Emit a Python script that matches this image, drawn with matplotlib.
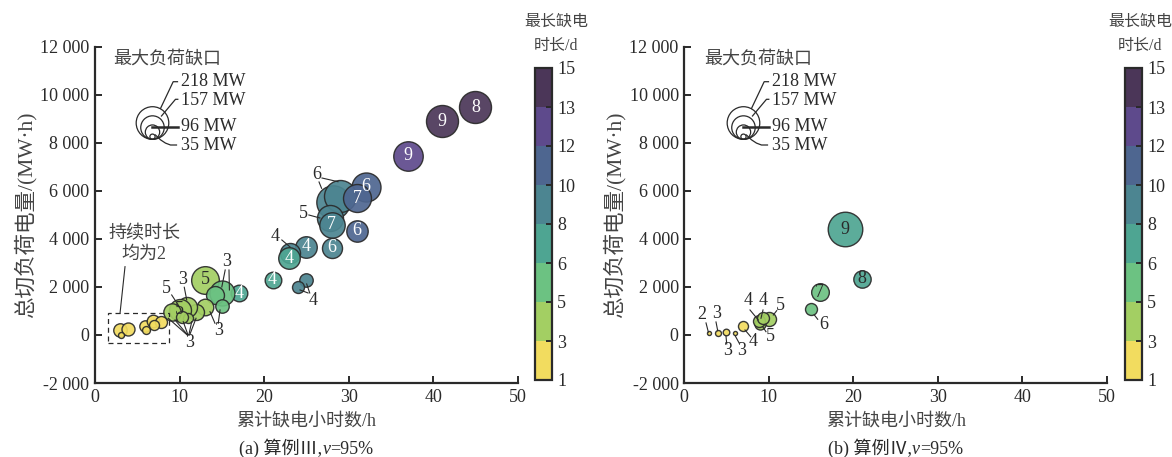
import matplotlib
matplotlib.use('Agg')
import matplotlib.pyplot as plt
from matplotlib.colors import ListedColormap, BoundaryNorm
from matplotlib.patches import Rectangle
from matplotlib.transforms import Affine2D
from matplotlib.offsetbox import TextArea, HPacker, AnchoredOffsetbox
import matplotlib.ticker as mticker
import matplotlib as mpl

plt.rcParams['font.family'] = ['Liberation Serif', 'Noto Sans CJK SC']
plt.rcParams['axes.unicode_minus'] = False

DPI = 100
W, H = 1172, 457

# ---------------- colour scale (longest outage duration, d) ----------------
dur_bounds = [1, 3, 5, 6, 8, 10, 12, 13, 15]
dur_colors = ['#f2dc5f', '#a3cf63', '#6cc282', '#4ea592',
              '#4c8591', '#4e6690', '#5e4a8c', '#4b3658']

# ---------------- Case III ----------------
a_hours  = [45.0, 41.0, 37.0, 32.0, 28.2, 29.0, 31.0, 27.8, 28.0, 31.0, 28.0, 25.0, 23.1, 23.0,
            21.0, 25.0, 24.0, 17.0, 13.0, 15.0, 14.2, 15.0, 13.0, 12.0, 10.85, 10.0, 9.07, 11.0, 10.3,
            2.96, 3.94, 3.04, 5.91, 6.03, 6.9, 7.77, 6.95]
a_energy = [9480, 8900, 7450, 6170, 5550, 5800, 5690, 4870, 4580, 4330, 3630, 3680, 3400, 3200,
            2300, 2290, 2000, 1740, 2290, 1740, 1660, 1207, 1179, 970, 1179, 1040, 970, 695, 760,
            208, 237, 0, 375, 208, 595, 554, 400]
a_gap    = [214, 214, 197, 194, 223, 214, 187, 174, 170, 143, 134, 144, 134, 144,
            111, 90, 80, 111, 185, 167, 120, 90, 111, 107, 134, 147, 116, 67, 80,
            90, 87, 40, 76, 53, 84, 80, 67]
a_dur    = [14, 14, 12.5, 11, 9, 9, 11, 9, 9, 11, 9, 9, 9, 7,
            7, 9, 9, 7, 4, 5.5, 5.5, 5.5, 4, 4, 4, 4, 4, 4, 4,
            2, 2, 2, 2, 2, 2, 2, 2]
a_count  = ['8', '9', '9', '6', '', '', '7', '', '7', '6', '6', '4', '', '4',
            '4', '', '', '4', '5', '', '', '', '', '', '', '5', '', '', '',
            '', '', '', '', '', '', '', '']

# ---------------- Case IV ----------------
b_hours  = [19.0, 21.0, 16.0, 15.0, 10.0, 9.0, 8.8, 9.3, 7.0, 6.0, 4.93, 3.95, 2.96]
b_energy = [4400, 2330, 1780, 1070, 650, 450, 600, 700, 375, 70, 112, 70, 70]
b_gap    = [231, 116, 118, 80, 94, 74, 80, 80, 67, 27, 44, 40, 27]
b_dur    = [7, 7, 5.5, 5.5, 4, 4, 4, 4, 2, 2, 2, 2, 2]
b_count  = ['9', '8', '7', '', '', '', '', '', '', '', '', '', '']

# legend gaps (MW)
legend_gaps = [218, 157, 96, 35]

# outside labels: text, (tx, ty), leader segments [(x0,y0,x1,y1), ...]
a_callouts = [
    ('3', (15.6, 3040), [(15.4, 2705, 15.0, 2000), (15.85, 2705, 15.9, 1873)]),
    ('5', (8.45, 1950), [(9.07, 1665, 9.97, 1178)]),
    ('3', (10.37, 2300), [(10.56, 1985, 10.85, 1457)]),
    ('3', (11.24, -300), [(10.9, 0, 8.67, 695), (10.95, 0, 9.46, 624), (11.0, 0, 10.44, 553),
                          (11.1, 0, 11.44, 553), (11.2, 0, 11.95, 695)]),
    ('3', (14.58, 190), [(14.19, 487, 13.6, 970), (14.58, 487, 14.79, 1040)]),
    ('4', (25.8, 1430), [(25.4, 1748, 25.04, 2123), (25.2, 1748, 24.25, 1873)]),
    ('4', (21.3, 4079), [(22.1, 3954, 23.07, 3662)]),
    ('5', (24.64, 5065), [(25.3, 4994, 26.6, 4870)]),
    ('6', (26.2, 6659), [(26.85, 6534, 28.74, 6380), (26.5, 6368, 26.8, 6106)]),
]
b_callouts = [
    ('6', (16.44, 416), [(15.38, 832, 15.78, 653)]),
    ('5', (11.32, 1207), [(10.53, 832, 10.93, 1011)]),
    ('5', (10.14, -71), [(9.27, 345, 9.66, 137)]),
    ('4', (7.57, 1415), [(8.75, 624, 7.77, 1040)]),
    ('4', (9.34, 1415), [(9.07, 695, 9.31, 1040)]),
    ('4', (8.16, -279), [(7.18, 208, 7.85, -71)]),
    ('3', (6.79, -640), [(6.03, -42, 6.5, -345)]),
    ('3', (5.13, -660), [(4.93, -42, 5.02, -375)]),
    ('3', (3.83, 874), [(3.95, 180, 3.75, 541)]),
    ('2', (2.06, 832), [(2.84, 125, 2.57, 500)]),
]

cmap = ListedColormap(dur_colors)
norm = BoundaryNorm(dur_bounds, cmap.N)

FS = 13
DARK = '#2a2a2a'
GREY = '#444444'


def radius_px(gap):
    return gap * 16.3 / 218.0


def marker_s(gap):
    d_pt = 2 * radius_px(gap) * 72.0 / DPI
    return d_pt ** 2


fig = plt.figure(figsize=(W / DPI, H / DPI), dpi=DPI)


def fmt(v, pos):
    v = int(round(v))
    s = f"{abs(v):,}".replace(',', ' ')
    return ('-' if v < 0 else '') + s


def setup_axes(ax):
    ax.set_xlim(0, 50)
    ax.set_ylim(-2000, 12000)
    ax.set_xticks(range(0, 51, 10))
    ax.set_yticks(range(-2000, 12001, 2000))
    ax.yaxis.set_major_formatter(mticker.FuncFormatter(fmt))
    for sp in ['top', 'right']:
        ax.spines[sp].set_visible(False)
    for sp in ['left', 'bottom']:
        ax.spines[sp].set_linewidth(1.6)
        ax.spines[sp].set_color(DARK)
    ax.tick_params(direction='in', length=5, width=1.4, labelsize=FS, colors=DARK, pad=4)
    ax.autoscale(False)


def draw_bubbles(ax, xs, ys, gaps, durs, counts, light_text):
    for x, y, g, d, c in zip(xs, ys, gaps, durs, counts):
        col = cmap(norm(d))
        ax.scatter([x], [y], s=marker_s(g), color=col, alpha=0.92,
                   edgecolors=DARK, linewidths=1.0, zorder=3)
        if c:
            tc = 'white' if (light_text and d >= 6) else DARK
            ax.text(x, y, c, ha='center', va='center', fontsize=FS, color=tc, zorder=4)


def draw_callouts(ax, callouts):
    for t, (tx, ty), segs in callouts:
        ax.text(tx, ty, t, ha='center', va='center', fontsize=FS, color=DARK, zorder=5)
        for x0, y0, x1, y1 in segs:
            ax.plot([x0, x1], [y0, y1], color=DARK, lw=0.8, zorder=5)


def draw_size_legend(ax, anchor):
    ax0 = ax.transData.transform(anchor)
    T = Affine2D().scale(1, -1).translate(ax0[0], ax0[1])
    for g in legend_gaps:
        r = radius_px(g)
        ax.scatter([0], [-r], s=marker_s(g), transform=T, facecolors='none',
                   edgecolors=DARK, linewidths=0.9, zorder=3)
    ax.text(14.7, -80.3, '最大负荷缺口', transform=T, ha='center', va='center',
            fontsize=FS, color=GREY)
    leaders = [
        ([8, 20.7, 25], [-30.8, -57.6, -57.6], 0.9),
        ([9, 23, 25.3], [-23.3, -40, -40], 0.9),
        ([-0.3, 25.3], [-12.6, -12.6], 1.8),
        ([3, 8, 13, 18, 24], [-4.3, 0.5, 3.8, 5.7, 5.7], 0.9),
    ]
    label_y = [-57.6, -38.6, -12.6, 5.7]
    for g, (lx, ly, lw), yy in zip(legend_gaps, leaders, label_y):
        ax.plot(lx, ly, transform=T, color=DARK, lw=lw, zorder=4)
        ax.text(29.0, yy, f'{g} MW', transform=T, ha='left', va='center',
                fontsize=FS, color=DARK)


def add_colorbar(left_px, title_cx):
    cax = fig.add_axes([left_px / W, 77 / H, 16.7 / W, 312 / H])
    cb = mpl.colorbar.ColorbarBase(cax, cmap=cmap, norm=norm, boundaries=dur_bounds,
                                   ticks=dur_bounds, spacing='uniform')
    cb.outline.set_linewidth(1.6)
    cb.outline.set_edgecolor(DARK)
    cax.tick_params(direction='in', length=4, width=1.4, labelsize=FS, colors=DARK, pad=4)
    fig.text(title_cx / W, 1 - 22 / H, '最长缺电', ha='center', va='center',
             fontsize=11.5, color=GREY)
    fig.text(title_cx / W, 1 - 46 / H, '时长/d', ha='center', va='center',
             fontsize=11.5, color=GREY)


def add_caption(cx, cy, prefix):
    tp = dict(fontsize=FS, color=DARK)
    parts = [TextArea(prefix, textprops=tp),
             TextArea('ν', textprops=dict(fontsize=FS, color=DARK, fontstyle='italic')),
             TextArea('=95%', textprops=tp)]
    box = HPacker(children=parts, align='baseline', pad=0, sep=0)
    ab = AnchoredOffsetbox(loc='center', child=box, pad=0, borderpad=0, frameon=False,
                           bbox_to_anchor=(cx, cy), bbox_transform=fig.transFigure)
    fig.add_artist(ab)


panels = [
    (95, a_hours, a_energy, a_gap, a_dur, a_count, a_callouts, True, 535, 556, 6.8,
     '(a) 算例Ⅲ,'),
    (684.3, b_hours, b_energy, b_gap, b_dur, b_count, b_callouts, False, 1125, 1140, 7.0,
     '(b) 算例Ⅳ,'),
]

for (lpx, xs, ys, gs, ds, cs, callouts, light, cbx, cbt, lgx, cap) in panels:
    ax = fig.add_axes([lpx / W, 74 / H, 422.7 / W, 336.3 / H])
    setup_axes(ax)
    draw_bubbles(ax, xs, ys, gs, ds, cs, light)
    draw_callouts(ax, callouts)
    draw_size_legend(ax, (lgx, 8145))
    cx = (lpx + 211.35) / W
    fig.text(cx, 1 - 421.7 / H, '累计缺电小时数/h', ha='center', va='center', fontsize=FS, color=GREY)
    add_caption(cx, 1 - 448 / H, cap)
    fig.text((lpx - 70) / W, 1 - 215 / H, '总切负荷电量/(MW·h)', ha='center', va='center',
             rotation=90, fontsize=15.5, color=GREY)
    add_colorbar(cbx, cbt)
    if light:
        ax.add_patch(Rectangle((1.54, -333), 7.2, 1250, fill=False, ls=(0, (4, 3)),
                               lw=0.9, edgecolor=DARK, zorder=5))
        ax.text(5.8, 3787, '持续时长\n均为2', ha='center', va='center', fontsize=FS,
                color=GREY, linespacing=1.25)
        ax.plot([3.55, 2.96], [2843, 903], color=DARK, lw=0.8)

fig.savefig('out.png', dpi=DPI)
